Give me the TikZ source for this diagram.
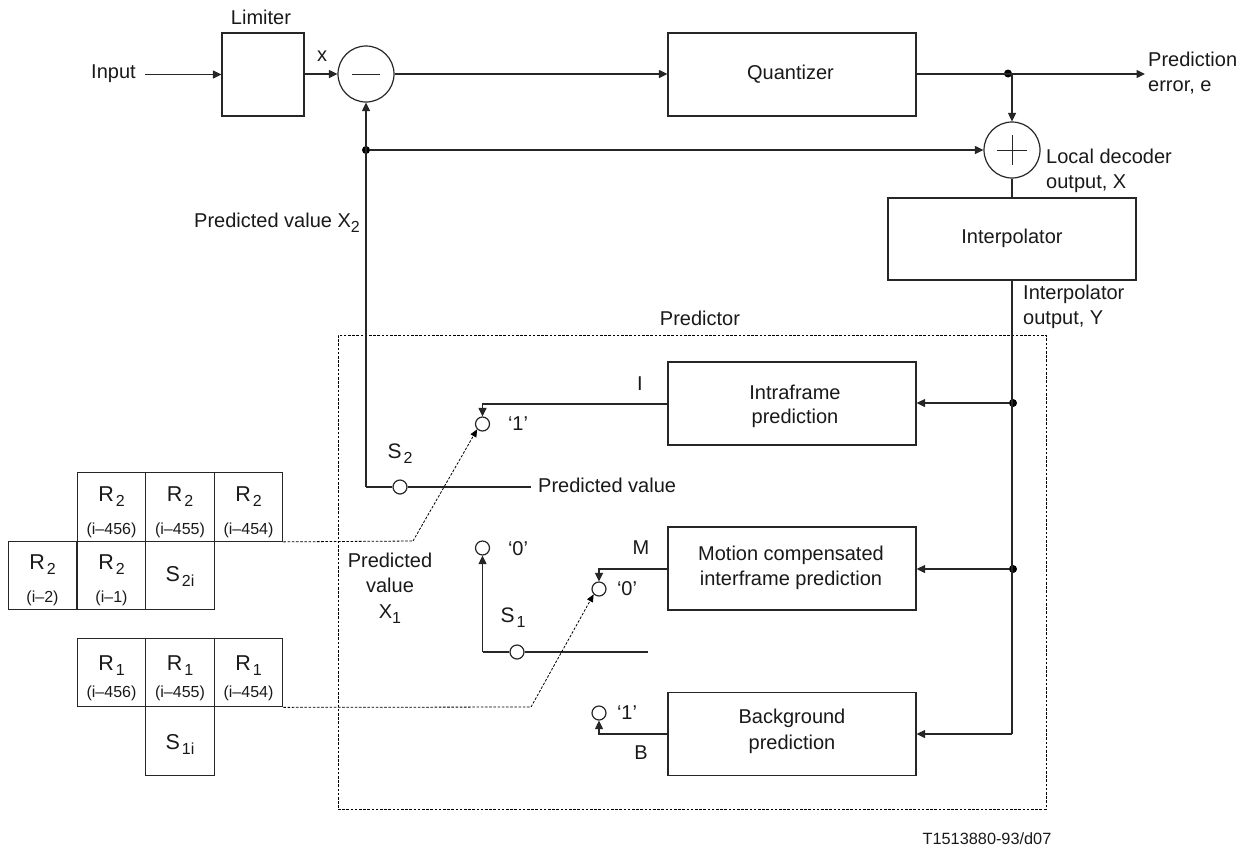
\documentclass[tikz,border=0pt]{standalone}
\usepackage{fontspec}
\setmainfont{Liberation Sans}
\usetikzlibrary{arrows.meta}
\newcommand{\subt}[2]{#1\raisebox{-5pt}{\hspace{2pt}\fontsize{16}{16}\selectfont #2}}
\tikzset{
  x=1pt,y=-1pt,
  wire/.style={draw=black!85,line width=1.2pt},
  arr/.style={wire,-{Triangle[length=8.5pt,width=8pt]}},
  dashline/.style={draw=black,line width=0.8pt,dash pattern=on 2.6pt off 1.6pt},
  darr/.style={dashline,-{Triangle[length=7.5pt,width=6.5pt]}},
  blockbox/.style={draw=black!85,line width=1.2pt,minimum width=0pt,inner sep=0pt,align=center,fill=white},
  cell/.style={draw=black!85,line width=1.2pt,minimum width=68.5pt,minimum height=68.5pt,inner sep=0pt},
  sumcirc/.style={circle,draw=black!85,line width=1.2pt,minimum size=56pt,inner sep=0pt},
  sw/.style={circle,draw=black!85,line width=1.2pt,minimum size=14pt,inner sep=0pt,fill=white},
  jn/.style={circle,fill=black,minimum size=8pt,inner sep=0pt},
  lbl/.style={inner sep=0pt,font=\fontsize{20}{25.5}\selectfont,text=black!90,align=center},
  tiny/.style={inner sep=0pt,font=\fontsize{16}{16}\selectfont,text=black!90},
  big/.style={inner sep=0pt,font=\fontsize{21.5}{22}\selectfont,text=black!90},
}
\begin{document}
\begin{tikzpicture}
\useasboundingbox (0,0) rectangle (1252,852);
% dashed predictor frame
\node[dashline,rectangle,minimum width=708pt,minimum height=474pt,inner sep=0pt] (frame) at (692,572) {};
% blocks
\node[blockbox,minimum width=82pt,minimum height=83pt] (lim) at (263,74.5) {};
\node[blockbox,minimum width=248pt,minimum height=83pt] (quant) at (792,74.5) {};
\node[blockbox,minimum width=248pt,minimum height=82pt] (interp) at (1012,239) {};
\node[blockbox,minimum width=248pt,minimum height=83pt] (intra) at (792,403.5) {};
\node[blockbox,minimum width=248pt,minimum height=83pt] (motion) at (792,568.5) {};
\node[blockbox,minimum width=248pt,minimum height=83pt] (backg) at (792,734) {};
\node[lbl] (tquant) at (790.5,74) {Quantizer};
\node[lbl] (tinterp) at (1012,238) {Interpolator};
\node[lbl,font=\fontsize{20}{24.5}\selectfont] (tintra) at (795,406.5) {Intraframe\\prediction};
\node[lbl] (tmotion) at (791,568) {Motion compensated\\interframe prediction};
\node[lbl] (tbackg) at (792,731.5) {Background\\prediction};
% summing circles
\node[sumcirc] (minus) at (366,74) {};
\draw[wire,line width=1pt] (352,74) -- (380,74);
\node[sumcirc] (plus) at (1012,150) {};
\draw[wire,line width=1pt] (997,150) -- (1027,150) (1012,135) -- (1012,165);
% junctions
\node[jn] (j1) at (366,150) {};
\node[jn] (j2) at (1008,73.5) {};
\node[jn] (j3) at (1013,403) {};
\node[jn] (j4) at (1013,569) {};
% switches
\node[sw] (s21) at (482.5,424) {};
\node[sw] (s2) at (400,487) {};
\node[sw] (s10) at (482.5,548) {};
\node[sw] (s1) at (517,652) {};
\node[sw] (s1a) at (599,589) {};
\node[sw] (s1b) at (599,713) {};
% free ends
\coordinate (inp) at (145,74.5);
\coordinate (out) at (1145,74);
\coordinate (ptop) at (1012,74);
\coordinate (s2l) at (366,487);
\coordinate (s2r) at (531,487);
\coordinate (s1l) at (482.5,652);
\coordinate (s1r) at (648,652);
\coordinate (ic) at (482.5,404);
\coordinate (mc) at (599,569);
\coordinate (bc) at (599,734);
\coordinate (yend) at (1012,734);
\coordinate (ytop) at (1012,280);
\coordinate (d1) at (413,541);
\coordinate (d2) at (531,707);
% main wires
\draw[arr] (inp) -- (lim.west);
\draw[arr] (lim.east |- 0,74) -- (minus.west);
\draw[arr] (minus.east) -- (quant.west |- minus.east);
\draw[arr] (quant.east |- 0,74) -- (out);
\draw[arr] (ptop) -- (plus.north);
\draw[arr] (j1) -- (plus.west);
\draw[arr] (s2l) -- (minus.south);
\draw[wire] (plus.south) -- (plus.south |- interp.north);
\draw[wire] (s2l) -- (s2) -- (s2r);
\draw[wire] (ytop) -- (yend);
\draw[arr] (j3) -- (intra.east |- j3);
\draw[arr] (j4) -- (motion.east |- j4);
\draw[arr] (yend) -- (backg.east |- yend);
% switch wires
\draw[arr] (intra.west |- ic) -- (ic) -- (s21.north);
\draw[arr] (motion.west |- mc) -- (mc) -- (s1a.north);
\draw[arr] (backg.west |- bc) -- (bc) -- (s1b.south);
\draw[arr] (s1l) -- (s10.south);
\draw[wire] (s1l) -- (s1) -- (s1r);
% cells
\node[cell] (r26) at (111.5,507) {};
\node[cell] (r25) at (180,507) {};
\node[cell] (r24) at (248.5,507) {};
\node[cell] (r22) at (42.5,575.5) {};
\node[cell] (r21) at (111.5,575.5) {};
\node[cell] (s2i) at (180,575.5) {};
\node[cell] (r16) at (111.5,672.5) {};
\node[cell] (r15) at (180,672.5) {};
\node[cell] (r14) at (248.5,672.5) {};
\node[cell] (s1i) at (180,741) {};
% dashed connectors
\draw[dashline] (r24.south east) -- (d1);
\draw[darr] (d1) -- (s21.south west);
\draw[dashline] (r14.south east) -- (d2);
\draw[darr] (d2) -- (s1a.south west);
% cell text
\foreach \n/\s/\t/\x/\y/\a/\b in {a/2/(i--456)/111.5/473/24/57.7,b/2/(i--455)/180/473/24/57.7,c/2/(i--454)/248.5/473/24/57.7,d/2/(i--2)/42.5/541/24/57,e/2/(i--1)/111.5/541/24/57,f/1/(i--456)/111.5/638/28/55,g/1/(i--455)/180/638/28/55,h/1/(i--454)/248.5/638/28/55}{
  \node[big] (rt\n) at (\x,\y+\a) {\subt{R}{\s}};
  \node[tiny] (rb\n) at (\x,\y+\b) {\t};
}
\node[big] (ts2i) at (180,576) {\subt{S}{2i}};
\node[big] (ts1i) at (180,744) {\subt{S}{1i}};
% labels
\node[lbl,anchor=west] (tinput) at (91,74) {Input};
\node[lbl] (tlim) at (261,17) {Limiter};
\node[lbl] (tx) at (322,56) {x};
\node[lbl,anchor=west,align=left] (tpred) at (1148,73) {Prediction\\error, e};
\node[lbl,anchor=west,align=left] (tlocal) at (1046,171) {Local decoder\\output, X};
\node[lbl,anchor=west,align=left] (tyout) at (1023,307) {Interpolator\\output, Y};
\node[lbl,anchor=west] (tx2) at (194,223) {Predicted value X\raisebox{-5pt}{\fontsize{16}{16}\selectfont 2}};
\node[lbl] (tpredictor) at (700,318) {Predictor};
\node[lbl,anchor=west] (tpv) at (538,485) {Predicted value};
\node[lbl] (tpx1) at (390,588) {Predicted\\value\\X\raisebox{-5pt}{\fontsize{16}{16}\selectfont 1}};
\node[big,font=\fontsize{21}{22}\selectfont] (ts2) at (400,454) {\subt{S}{2}};
\node[big,font=\fontsize{21}{22}\selectfont] (ts1) at (513,618) {\subt{S}{1}};
\node[lbl] (t1a) at (518,424) {‘1’};
\node[lbl] (t0a) at (518,549) {‘0’};
\node[lbl] (t0b) at (627,589) {‘0’};
\node[lbl] (t1b) at (627,713) {‘1’};
\node[lbl] (ti) at (640,384) {I};
\node[lbl] (tm) at (641,548) {M};
\node[lbl] (tb) at (641,753) {B};
\node[inner sep=0pt,font=\fontsize{16.3}{17}\selectfont,text=black!90] (tref) at (987,839) {T1513880-93/d07};
\end{tikzpicture}
\end{document}
